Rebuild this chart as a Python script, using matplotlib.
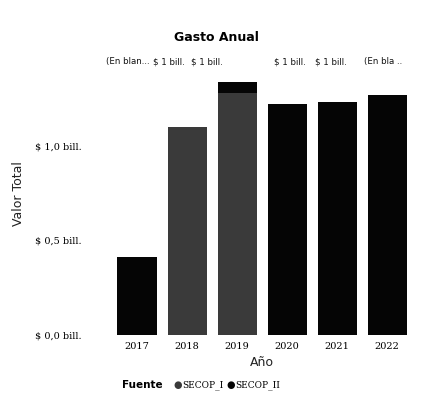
import matplotlib.pyplot as plt
import numpy as np

# data (values in billones de pesos)
years = ['2017', '2018', '2019', '2020', '2021', '2022']
secop_i = [0.00, 1.10, 1.28, 0.00, 0.00, 0.00]
secop_ii = [0.41, 0.00, 0.06, 1.22, 1.23, 1.27]
top_labels = ['(En blan...', '$ 1 bill.', '$ 1 bill.', '$ 1 bill.', '$ 1 bill.', '(En bla ..']
yticks = [0.0, 0.5, 1.0]
ytick_labels = ['$ 0,0 bill.', '$ 0,5 bill.', '$ 1,0 bill.']

# label shifts in pixels (labels crowd together in the original)
label_shift = [-9, -18, -30, 3, -6, -4]

c_i = '#3a3a3a'
c_ii = '#050505'

fig = plt.figure(figsize=(4.21, 4.07), dpi=100)
ax = fig.add_axes([0.266, 0.177, 0.713, 0.639])

x = np.arange(len(years))
ax.bar(x, secop_i, width=0.78, color=c_i, label='SECOP_I')
ax.bar(x, secop_ii, width=0.78, bottom=secop_i, color=c_ii, label='SECOP_II')

ax.set_xlim(-0.5, len(years) - 0.5)
ax.set_ylim(0, 1.375)
ax.set_xticks(x)
ax.set_xticklabels(years, fontsize=7, family='DejaVu Serif')
ax.set_yticks(yticks)
ax.set_yticklabels(ytick_labels, fontsize=7, family='DejaVu Serif')
ax.tick_params(length=0, pad=5)
ax.tick_params(axis='y', pad=22)
for s in ax.spines.values():
    s.set_visible(False)

# total labels above the bars
for i, lab in enumerate(top_labels):
    ax.annotate(lab, xy=(x[i], 1.05), xycoords=ax.get_xaxis_transform(),
                xytext=(label_shift[i], 0), textcoords='offset pixels',
                ha='center', va='center', fontsize=6.2, color='#111111',
                annotation_clip=False)

ax.set_xlabel('Año', fontsize=9, labelpad=4, color='#222222')
fig.text(0.043, 0.525, 'Valor Total', rotation=90, ha='center', va='center',
         fontsize=9, color='#222222')
fig.text(0.515, 0.908, 'Gasto Anual', ha='center', va='center',
         fontsize=9, fontweight='bold')

# legend row
fig.text(0.29, 0.054, 'Fuente', ha='left', va='center', fontsize=7.5, fontweight='bold')
fig.text(0.422, 0.054, '\u25cf', ha='center', va='center', fontsize=7, color=c_i)
fig.text(0.433, 0.054, 'SECOP_I', ha='left', va='center', fontsize=6.5, family='DejaVu Serif')
fig.text(0.548, 0.054, '\u25cf', ha='center', va='center', fontsize=7, color=c_ii)
fig.text(0.559, 0.054, 'SECOP_II', ha='left', va='center', fontsize=6.5, family='DejaVu Serif')

fig.savefig('out.png', dpi=100)
